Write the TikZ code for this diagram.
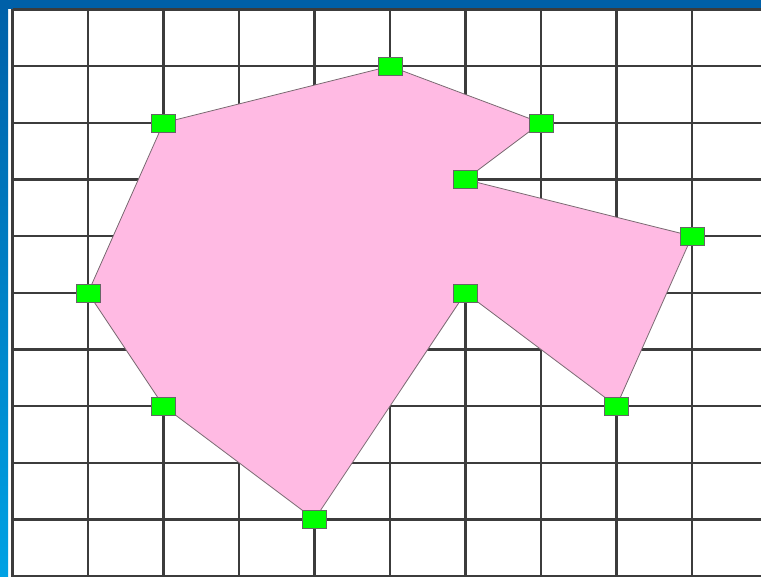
\documentclass[tikz,border=0pt]{standalone}
\usetikzlibrary{calc}
\definecolor{bandtop}{HTML}{0060A8}
\definecolor{bandbot}{HTML}{00A2E4}
\definecolor{gridc}{HTML}{3C3C3C}
\definecolor{polyfill}{HTML}{FFBAE3}
\definecolor{polyline}{HTML}{7A6A72}
\definecolor{vgreen}{HTML}{00FF00}
\tikzset{
  gridline/.style={draw=gridc, line width=2.4pt},
  vertex/.style={rectangle, draw=black!60, line width=0.5pt, fill=vgreen, minimum width=24pt, minimum height=18pt, inner sep=0pt},
  polyshape/.style={fill=polyfill, draw=polyline, line width=0.8pt, line join=round}
}
\begin{document}
\begin{tikzpicture}[x=1pt,y=-1pt]
\useasboundingbox (0,0) rectangle (761,577);
\fill[white] (0,0) rectangle (761,577);
% blue frame
\shade[top color=bandtop, bottom color=bandbot] (0,0) rectangle (8,577);
\fill[bandtop] (0,0) rectangle (761,9);
% grid
\foreach \i in {0,...,9} {
  \pgfmathsetmacro{\xx}{12.5+75.5*\i}
  \draw[gridline] (\xx,9.5) -- (\xx,577);
}
\foreach \j in {0,...,10} {
  \pgfmathsetmacro{\yy}{9.5+56.65*\j}
  \draw[gridline] (12.5,\yy) -- (761,\yy);
}
% vertices
\coordinate (p1) at (163.5,122.8);
\coordinate (p2) at (390,66.2);
\coordinate (p3) at (541,122.8);
\coordinate (p4) at (465.5,179.5);
\coordinate (p5) at (692,236.1);
\coordinate (p6) at (616.5,406.1);
\coordinate (p7) at (465.5,292.8);
\coordinate (p8) at (314.5,519.4);
\coordinate (p9) at (163.5,406.1);
\coordinate (p10) at (88,292.8);
\filldraw[polyshape] (p1) -- (p2) -- (p3) -- (p4) -- (p5) -- (p6) -- (p7) -- (p8) -- (p9) -- (p10) -- cycle;
\foreach \k in {1,...,10} {
  \node[vertex] (v\k) at (p\k) {};
}
\end{tikzpicture}
\end{document}
